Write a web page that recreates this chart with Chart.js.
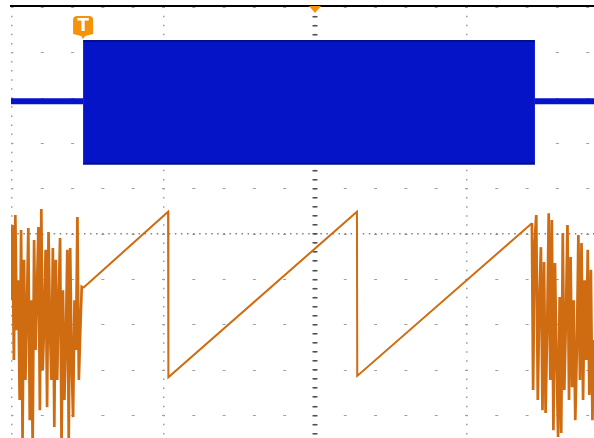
<!DOCTYPE html>
<html><head><meta charset="utf-8">
<script src="https://cdn.jsdelivr.net/npm/chart.js@4.4.0/dist/chart.umd.min.js"></script>
<style>html,body{margin:0;padding:0;background:#fff}#wrap{width:594px;height:438px;position:relative}</style>
</head><body><div id="wrap"><canvas id="c"></canvas></div>
<script>
// ---- screen (in divisions) ----
const screenTime = [-2.007, 1.842];
const screenVolts = [-4.50, 5.03];
const majorTimeTicks = [-2, -1, 0, 1];
const rowTicks = [-4,-3,-2,-1,0,1,2,3,4,5];
const triggerPosition = 0;

// ---- channel 1 (blue burst) ----
const burstTimes = [-1.531, 1.452];
const ch1Idle = 2.93;
const ch1High = 4.26;
const ch1Low = 1.55;

// ---- channel 2 (orange) ----
const rampTimes = [-1.531, -0.970, -0.968, 0.277, 0.279, 1.432];
const rampVolts = [-1.19, 0.49, -3.16, 0.49, -3.13, 0.24];
const noiseLeftSpan = [-2.007, -1.540];
const noiseLeft = [-1.46, 0.20, -2.78, 0.42, -2.12, -1.02, -3.66, 0.09, -4.55, -0.57, -3.22, -1.68, 0.13, -4.11, -1.46, -4.66, -0.13, -2.56, -1.24, 0.155, -3.89, 0.55, -3.0, -1.90, -0.35, -3.82, 0.044, -2.12, -3.22, -0.31, -4.26, -0.57, -3.22, -1.46, -0.09, -4.66, -1.24, -3.66, -2.34, -0.35, -4.55, -0.31, -2.78, -4.04, -1.46, -2.56, 0.375, -3.22, -2.12, -1.17];
const noiseRightSpan = [1.440, 1.842];
const noiseRight = [-3.44, -0.2, 0.42, -3.66, -1.46, -0.29, -3.89, -0.62, -3.95, -2.12, 0.46, -3.22, 0.31, -4.33, -0.64, -2.78, -4.48, -1.39, -4.39, 0.02, -3.44, -1.90, 0.20, -3.66, -0.51, -3.38, -1.46, -4.11, -2.56, -0.02, -3.22, -0.2, -3.66, -1.02, -2.78, -0.35, -3.55, -0.79, -4.11, -2.34];

const minorTimeTicks = [];
for (let v = -10; v <= 9; v++) minorTimeTicks.push(v / 5);
const centerMinorTicks = [];
for (let v = -22; v <= 25; v++) centerMinorTicks.push(v / 5);

function spread(span, vals) {
  const n = vals.length;
  return vals.map((v, i) => ({x: span[0] + i * (span[1] - span[0]) / (n - 1), y: v}));
}
const ch2Data = [].concat(
  spread(noiseLeftSpan, noiseLeft),
  rampTimes.map((t, i) => ({x: t, y: rampVolts[i]})),
  spread(noiseRightSpan, noiseRight)
);

const BLUE = '#0414c6';
const ORANGE = '#cf6b10';
const MARK = '#f5920a';

function fixed(list) { return s => { s.ticks = list.map(v => ({value: v})); }; }
function hidden(extra) {
  return Object.assign({
    type: 'linear', ticks: {display: false}, border: {display: false},
    grid: {drawTicks: false}
  }, extra);
}

const markers = {
  id: 'markers',
  afterDatasetsDraw(chart) {
    const {ctx, chartArea} = chart;
    const x = chart.scales.x;
    const top = chartArea.top;
    ctx.save();
    const px = x.getPixelForValue(triggerPosition);
    ctx.fillStyle = MARK;
    ctx.beginPath();
    ctx.moveTo(px - 6, top); ctx.lineTo(px + 6, top); ctx.lineTo(px, top + 7);
    ctx.closePath(); ctx.fill();
    const bx = x.getPixelForValue(burstTimes[0]);
    const l = bx - 10, r = bx + 10, t = top + 10, b = top + 30, rad = 4;
    ctx.beginPath();
    ctx.moveTo(l + rad, t); ctx.lineTo(r - rad, t); ctx.quadraticCurveTo(r, t, r, t + rad);
    ctx.lineTo(r, b - 2); ctx.lineTo(bx + 2, b); ctx.lineTo(bx, b + 3); ctx.lineTo(bx - 2, b);
    ctx.lineTo(l, b - 2); ctx.lineTo(l, t + rad); ctx.quadraticCurveTo(l, t, l + rad, t);
    ctx.closePath(); ctx.fill();
    ctx.fillStyle = '#fff';
    ctx.font = 'bold 17px "DejaVu Sans"';
    ctx.textAlign = 'center'; ctx.textBaseline = 'middle';
    ctx.fillText('T', bx, (t + b) / 2 + 1);
    ctx.restore();
  }
};

new Chart(document.getElementById('c'), {
  type: 'line',
  data: {
    datasets: [
      {label: 'CH1 idle', data: [
        {x: screenTime[0], y: ch1Idle}, {x: burstTimes[0], y: ch1Idle}, {x: 0, y: null},
        {x: burstTimes[1], y: ch1Idle}, {x: screenTime[1], y: ch1Idle}],
        borderColor: BLUE, borderWidth: 6, spanGaps: false},
      {label: 'CH1 burst top', data: burstTimes.map(t => ({x: t, y: ch1High})),
        borderColor: '#00108a', borderWidth: 2, fill: false},
      {label: 'CH1 burst bottom', data: burstTimes.map(t => ({x: t, y: ch1Low})),
        borderColor: '#00108a', borderWidth: 2, fill: '-1', backgroundColor: BLUE},
      {label: 'CH2', data: ch2Data, borderColor: ORANGE, borderWidth: 2,
        segment: {borderWidth: c => (c.p0.parsed.x < rampTimes[0] - 0.001 || c.p0.parsed.x >= rampTimes[rampTimes.length - 1]) ? 2.7 : 2},
        borderJoinStyle: 'miter'}
    ]
  },
  options: {
    responsive: true, maintainAspectRatio: false, animation: false,
    layout: {padding: {left: 11, top: 6, right: 0, bottom: 0}},
    elements: {point: {radius: 0}, line: {tension: 0}},
    plugins: {legend: {display: false}, tooltip: {enabled: false}},
    scales: {
      x: hidden({min: screenTime[0], max: screenTime[1], position: 'bottom',
        afterBuildTicks: fixed(majorTimeTicks),
        grid: {drawTicks: false, color: '#9a9a9a', lineWidth: 1.5},
        border: {display: false, dash: [1.5, 7.57], dashOffset: -0.6}}),
      xTop: hidden({min: screenTime[0], max: screenTime[1], position: 'top',
        grid: {display: false, drawTicks: false},
        border: {display: true, color: '#000', width: 2}}),
      y: hidden({min: screenVolts[0], max: screenVolts[1], position: 'left',
        afterBuildTicks: fixed(rowTicks),
        grid: {drawTicks: false, color: '#a0a0a0', lineWidth: 1},
        border: {display: false, dash: [3, 27.3], dashOffset: 0.5}}),
      yCenter: hidden({min: screenVolts[0], max: screenVolts[1], position: 'left',
        afterBuildTicks: fixed([0]),
        grid: {drawTicks: false, color: '#808080', lineWidth: 1.5},
        border: {display: false, dash: [1.5, 4.56], dashOffset: -0.25}}),
      yTicks: hidden({min: screenVolts[0], max: screenVolts[1], position: 'left',
        afterBuildTicks: fixed(centerMinorTicks),
        grid: {drawTicks: false, color: '#505050', lineWidth: 1.5},
        border: {display: false, dash: [5, 2000], dashOffset: -301.5}})
    }
  },
  plugins: [markers]
});
</script></body></html>
